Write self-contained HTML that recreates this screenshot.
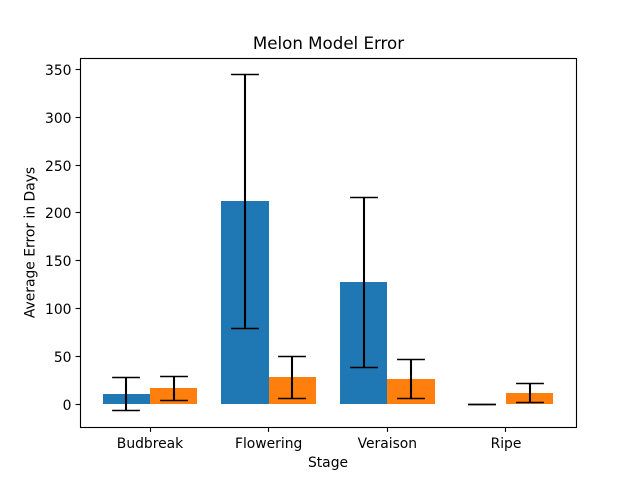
<!DOCTYPE html>
<html>
<head>
<meta charset="utf-8">
<title>Melon Model Error</title>
<style>
html,body{margin:0;padding:0;background:#fff;}
svg{display:block;}
text{font-family:"DejaVu Sans",sans-serif;fill:#000;}
</style>
</head>
<body>
<svg id="chart" width="640" height="480" viewBox="0 0 640 480" xmlns="http://www.w3.org/2000/svg">
<rect x="0" y="0" width="640" height="480" fill="#ffffff"/>
<text x="328.5" y="49" font-size="16.67" text-anchor="middle">Melon Model Error</text>
<text x="328" y="467" font-size="13.89" text-anchor="middle">Stage</text>
<text transform="translate(34.5,242.5) rotate(-90)" font-size="13.89" text-anchor="middle">Average Error in Days</text>
<g id="marks"></g>
<g id="axes"></g>
</svg>
<script>
const categories = ["Budbreak", "Flowering", "Veraison", "Ripe"];
const seriesANames = "blue";
const seriesAValues = [10.9, 212.4, 127.8, 0];
const seriesALow = [-6.2, 79.2, 39, 0];
const seriesAHigh = [28.3, 344.9, 216, 0];
const seriesBNames = "orange";
const seriesBValues = [17.1, 28.6, 26.5, 11.9];
const seriesBLow = [4.5, 6.0, 6.0, 2];
const seriesBHigh = [29.5, 50.5, 47.4, 21.8];
const yTicks = [0, 50, 100, 150, 200, 250, 300, 350];

const NS = "http://www.w3.org/2000/svg";
const L = 80, R = 576, T = 58.5, B = 427.5;
const xMin = -0.59, xMax = 3.59;
const zeroPx = 404.4, pxPerUnit = 0.9575;
const barW = 0.4, capHalf = 13.9;

function xScale(v){ return L + (v - xMin) / (xMax - xMin) * (R - L); }
function yScale(v){ return zeroPx - v * pxPerUnit; }
function snapLine(p){ return Math.floor(p) + 0.5; }

function make(tag, attrs, parent){
  const el = document.createElementNS(NS, tag);
  for (const k in attrs) el.setAttribute(k, attrs[k]);
  parent.appendChild(el);
  return el;
}

const marks = document.getElementById("marks");
const axes = document.getElementById("axes");

function drawSeries(values, color, offset, key){
  values.forEach(function(v, i){
    const x0 = Math.round(xScale(i + offset - barW / 2));
    const x1 = Math.round(xScale(i + offset + barW / 2));
    const y0 = Math.round(yScale(Math.max(v, 0)));
    const y1 = Math.round(yScale(Math.min(v, 0)));
    const bar = make("rect", {x: x0, y: y0, width: x1 - x0, height: y1 - y0, fill: color}, marks);
    
    
  });
}

function drawErrors(low, high, offset, key){
  low.forEach(function(lo, i){
    const cx = Math.round(xScale(i + offset));
    const hi = high[i];
    const yLo = snapLine(yScale(lo));
    const yHi = snapLine(yScale(hi));
    const stem = make("line", {x1: cx, x2: cx, y1: yLo, y2: yHi, stroke: "#000", "stroke-width": 2.08}, marks);
    
    
    const capLow = make("line", {x1: cx - capHalf, x2: cx + capHalf, y1: yLo, y2: yLo, stroke: "#000", "stroke-width": 1.39}, marks);
    
    
    const capHigh = make("line", {x1: cx - capHalf, x2: cx + capHalf, y1: yHi, y2: yHi, stroke: "#000", "stroke-width": 1.39}, marks);
    
    
  });
}

drawSeries(seriesAValues, "#1f77b4", -0.2, seriesANames);
drawSeries(seriesBValues, "#ff7f0e", 0.2, seriesBNames);
drawErrors(seriesALow, seriesAHigh, -0.2, seriesANames);
drawErrors(seriesBLow, seriesBHigh, 0.2, seriesBNames);

const frame = make("rect", {x: L + 0.5, y: T, width: R - L, height: B - T, fill: "none", stroke: "#000", "stroke-width": 1.11}, axes);



yTicks.forEach(function(t){
  const y = snapLine(yScale(t));
  const tick = make("line", {x1: L - 4.4, x2: L + 0.5, y1: y, y2: y, stroke: "#000", "stroke-width": 1.11}, axes);
  
  
  const label = make("text", {x: L - 8.5, y: Math.round(yScale(t) + 5.6), "font-size": 13.89, "text-anchor": "end"}, axes);
  
  
  label.textContent = String(t);
});

categories.forEach(function(c, i){
  const x = xScale(i);
  const tx = snapLine(x);
  const tick = make("line", {x1: tx, x2: tx, y1: B, y2: B + 4.4, stroke: "#000", "stroke-width": 1.11}, axes);
  
  
  const label = make("text", {x: x, y: 448, "font-size": 13.89, "text-anchor": "middle"}, axes);
  
  
  label.textContent = c;
});
</script>
</body>
</html>
